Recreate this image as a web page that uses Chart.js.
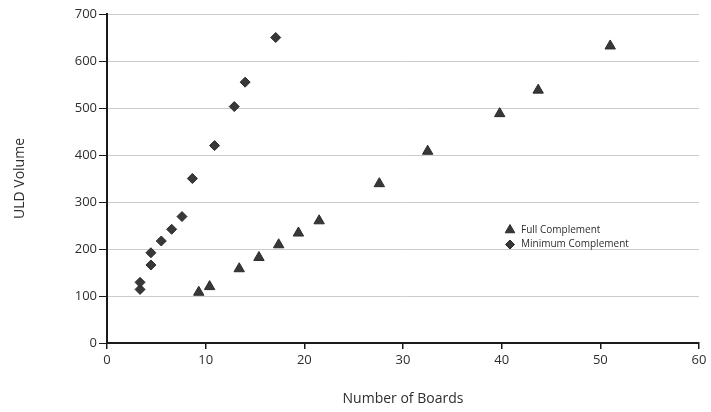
<!DOCTYPE html>
<html>
<head>
<meta charset="utf-8">
<script src="https://cdn.jsdelivr.net/npm/chart.js@4/dist/chart.umd.min.js"></script>
<style>
  html, body { margin: 0; padding: 0; background: #fff; }
</style>
</head>
<body>
<canvas id="myChart" width="711" height="412"></canvas>
<script>
// data
const fullBoards  = [9.3, 10.4, 13.4, 15.4, 17.4, 19.4, 21.5, 27.6, 32.5, 39.8, 43.7, 51.0];
const fullVolume  = [108, 120, 158, 182, 209, 234, 260, 339, 408, 488, 538, 632];
const minBoards   = [3.35, 3.35, 4.45, 4.45, 5.5, 6.55, 7.6, 8.65, 10.9, 12.9, 14.0, 17.1];
const minVolume   = [114, 129, 166, 192, 217, 242, 269, 350, 420, 503, 555, 650];
const xTickValues = [0, 10, 20, 30, 40, 50, 60];
const yTickValues = [0, 100, 200, 300, 400, 500, 600, 700];

const ink = '#2e2e2e';
const font = '"Open Sans", "DejaVu Sans", sans-serif';

function points(xs, ys) {
  return xs.map((x, i) => ({ x: x, y: ys[i] }));
}

// legend sits inside the plot, right of centre
const legendInPlot = {
  id: 'legendInPlot',
  afterDraw(chart) {
    const ctx = chart.ctx;
    const x0 = 510, y0 = 230, gap = 14.5;
    chart.data.datasets.forEach((ds, i) => {
      const y = y0 + i * gap;
      ctx.save();
      ctx.fillStyle = ds.backgroundColor;
      ctx.strokeStyle = ds.borderColor;
      ctx.lineWidth = 1;
      Chart.helpers.drawPoint(ctx, {
        pointStyle: ds.pointStyle,
        radius: ds.pointRadius - 0.5,
        borderWidth: 1
      }, x0, y);
      ctx.fillStyle = ink;
      ctx.font = '10px ' + font;
      ctx.textBaseline = 'middle';
      ctx.textAlign = 'left';
      ctx.fillText(ds.label, x0 + 11, y);
      ctx.restore();
    });
  }
};

const data = {
  datasets: [{
    label: 'Full Complement',
    data: points(fullBoards, fullVolume),
    pointStyle: 'triangle',
    pointRadius: 6,
    backgroundColor: '#383838',
    borderColor: '#2a2a2a',
    borderWidth: 1
  }, {
    label: 'Minimum Complement',
    data: points(minBoards, minVolume),
    pointStyle: 'rectRot',
    pointRadius: 5,
    backgroundColor: '#383838',
    borderColor: '#2a2a2a',
    borderWidth: 1
  }]
};

const config = {
  type: 'scatter',
  data: data,
  plugins: [legendInPlot],
  options: {
    responsive: false,
    animation: false,
    layout: { padding: { top: 14, right: 12, left: 0, bottom: 0 } },
    plugins: {
      legend: { display: false },
      tooltip: { enabled: false }
    },
    scales: {
      x: {
        type: 'linear',
        min: 0,
        max: 60,
        afterBuildTicks: s => { s.ticks = xTickValues.map(v => ({ value: v })); },
        afterFit: s => { s.height = 69; },
        border: { display: true, color: '#1a1a1a', width: 2 },
        grid: { drawOnChartArea: false, drawTicks: true, tickLength: 6, tickColor: '#1a1a1a', lineWidth: 1.5 },
        ticks: { color: ink, font: { family: font, size: 13 }, padding: 3, maxRotation: 0 },
        title: {
          display: true,
          text: 'Number of Boards',
          color: ink,
          font: { family: font, size: 14 },
          padding: { top: 0, bottom: 5 }
        }
      },
      y: {
        type: 'linear',
        min: 0,
        max: 700,
        afterBuildTicks: s => { s.ticks = yTickValues.map(v => ({ value: v })); },
        afterFit: s => { s.width = 107; },
        border: { display: true, color: '#1a1a1a', width: 2 },
        grid: { color: '#cccccc', lineWidth: 1, drawTicks: true, tickLength: 8, tickColor: '#1a1a1a' },
        ticks: { color: ink, font: { family: font, size: 13 }, padding: 2 },
        title: {
          display: true,
          text: 'ULD Volume',
          color: ink,
          font: { family: font, size: 14 },
          padding: { top: 12, bottom: 0 }
        }
      }
    }
  }
};

const myChart = new Chart(document.getElementById('myChart'), config);
</script>
</body>
</html>
